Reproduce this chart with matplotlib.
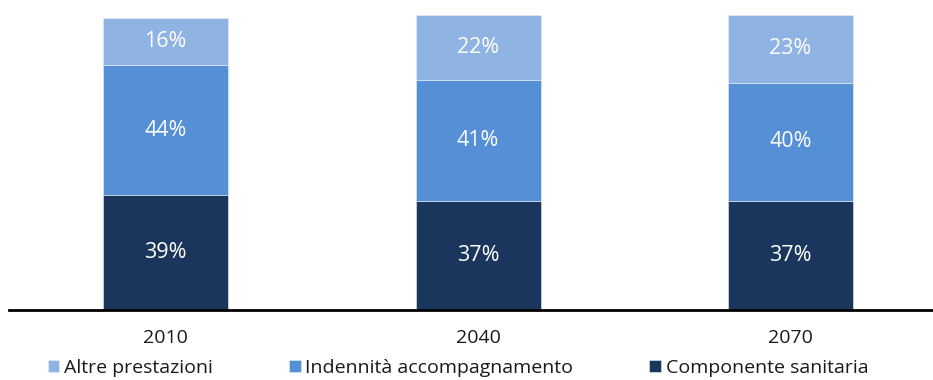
import numpy as np
import matplotlib.pyplot as plt

plt.rcParams['font.family'] = ['Open Sans', 'DejaVu Sans']

anni = ["2010", "2040", "2070"]
componente_sanitaria = [39, 37, 37]
indennita = [44, 41, 40]
altre_prestazioni = [16, 22, 23]

serie = [
    ("Componente sanitaria", componente_sanitaria, "#1b365d"),
    ("Indennità accompagnamento", indennita, "#558fd6"),
    ("Altre prestazioni", altre_prestazioni, "#8fb3e2"),
]

fig = plt.figure(figsize=(9.33, 3.8), dpi=100)
ax = fig.add_axes([9 / 933, 1 - 310 / 380, 924 / 933, 295 / 380])

x = np.arange(len(anni))
base = np.zeros(len(anni))
barre = {}
for nome, valori, colore in serie:
    b = ax.bar(x, valori, width=0.4, bottom=base, color=colore,
               edgecolor="#e8eef7", linewidth=0.4, label=nome)
    barre[nome] = b
    for xi, v, b0 in zip(x, valori, base):
        ax.text(xi, b0 + v / 2, f"{v}%", ha="center", va="center",
                color="white", fontsize=15.5, fontweight="medium")
    base = base + np.array(valori)

ax.set_xlim(-0.5008, 2.456)
ax.set_ylim(0, 100)
ax.set_yticks([])
ax.set_xticks(x)
ax.set_xticklabels(anni, fontsize=14, color="#1a1a1a")
ax.tick_params(axis="x", length=0, pad=14)
for s in ["top", "right", "left"]:
    ax.spines[s].set_visible(False)
ax.spines["bottom"].set_linewidth(2)
ax.spines["bottom"].set_color("black")

# legenda in ordine inverso (dall'alto verso il basso)
ordine = ["Altre prestazioni", "Indennità accompagnamento", "Componente sanitaria"]
fig.legend([barre[n] for n in ordine], ordine, loc="center", ncol=3,
           bbox_to_anchor=(0.491, 1 - 368 / 380), frameon=False,
           fontsize=14, handlelength=0.6, handleheight=0.6,
           handletextpad=0.25, columnspacing=3.9, borderaxespad=0,
           labelcolor="#1a1a1a")

fig.savefig("out.png", dpi=100)
